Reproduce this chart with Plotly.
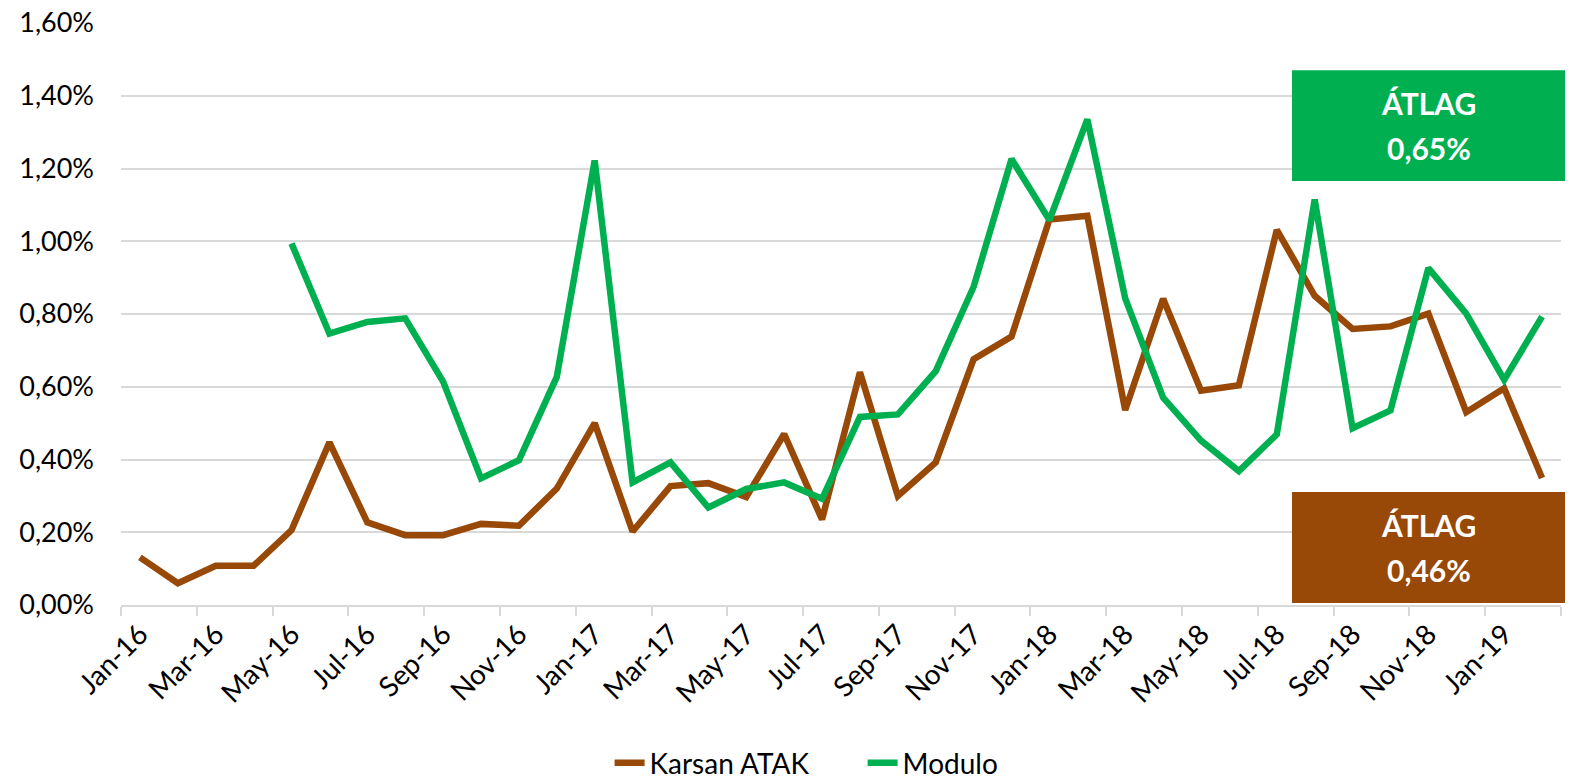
import plotly.graph_objects as go

months = ["Jan", "Feb", "Mar", "Apr", "May", "Jun", "Jul", "Aug", "Sep", "Oct", "Nov", "Dec"]
categories = [f"{m}-{y}" for y in ["16", "17", "18"] for m in months] + ["Jan-19", "Feb-19"]

karsan = [0.131, 0.060, 0.108, 0.108, 0.206, 0.447, 0.227, 0.192, 0.192, 0.223,
          0.218, 0.320, 0.500, 0.202, 0.327, 0.335, 0.297, 0.470, 0.235, 0.640,
          0.300, 0.392, 0.676, 0.738, 1.060, 1.070, 0.536, 0.842, 0.589, 0.604,
          1.031, 0.850, 0.759, 0.766, 0.801, 0.530, 0.596, 0.349]

modulo = [None, None, None, None, 0.994, 0.746, 0.778, 0.788, 0.614, 0.348,
          0.398, 0.627, 1.222, 0.337, 0.392, 0.268, 0.319, 0.337, 0.292, 0.517,
          0.524, 0.643, 0.875, 1.226, 1.058, 1.335, 0.843, 0.570, 0.452, 0.368,
          0.469, 1.115, 0.486, 0.535, 0.926, 0.801, 0.619, 0.793]

series_names = ["Karsan ATAK", "Modulo"]
avg_labels = ["0,46%", "0,65%"]
avg_title = "ÁTLAG"

BROWN = "#984807"
GREEN = "#00B050"
FONT = "Lato, Carlito, Calibri, sans-serif"

fig = go.Figure()
fig.add_trace(go.Scatter(x=categories, y=karsan, name=series_names[0], mode="lines",
                         line=dict(color=BROWN, width=6.5), connectgaps=False))
fig.add_trace(go.Scatter(x=categories, y=modulo, name=series_names[1], mode="lines",
                         line=dict(color=GREEN, width=6.5), connectgaps=False))

# average boxes
boxes = [
    dict(color=GREEN, y0=0.7285, y1=0.919, label=avg_labels[1]),
    dict(color=BROWN, y0=0.0034, y1=0.194, label=avg_labels[0]),
]
x0, x1 = 0.8132, 1.0028
for b in boxes:
    fig.add_shape(type="rect", xref="paper", yref="paper", x0=x0, x1=x1, y0=b["y0"], y1=b["y1"],
                  fillcolor=b["color"], line=dict(width=0), layer="above")
    h = b["y1"] - b["y0"]
    fig.add_annotation(xref="paper", yref="paper", x=(x0 + x1) / 2, y=b["y0"] + h * 0.70,
                       text=f"<b>{avg_title}</b>", showarrow=False, xanchor="center",
                       font=dict(family=FONT, size=30, color="white"), yanchor="middle")
    fig.add_annotation(xref="paper", yref="paper", x=(x0 + x1) / 2, y=b["y0"] + h * 0.30,
                       text=f"<b>{b['label']}</b>", showarrow=False, xanchor="center",
                       font=dict(family=FONT, size=30, color="white"), yanchor="middle")

fig.update_layout(
    width=1571, height=779,
    margin=dict(l=121, r=10, t=23, b=174, autoexpand=False),
    paper_bgcolor="white", plot_bgcolor="white",
    separators=", ",
    font=dict(family=FONT, size=28, color="#000000"),
    showlegend=True,
    legend=dict(orientation="h", xref="paper", yref="container", x=0.515, y=0.0205,
                xanchor="center", yanchor="middle", font=dict(size=28, color="#000000"),
                tracegroupgap=0, entrywidth=208, entrywidthmode="pixels"),
)
fig.update_xaxes(type="category", categoryorder="array", categoryarray=categories,
                 tickmode="linear", dtick=2, tick0=0, tickson="boundaries",
                 ticks="outside", ticklen=9, tickcolor="#d9d9d9", tickwidth=1.5,
                 tickangle=-45, showgrid=False, showline=True, linecolor="#d9d9d9", linewidth=1.5,
                 tickfont=dict(size=28, color="#000000"), range=[-0.5, len(categories) - 0.5],
                 automargin=False)
fig.update_yaxes(range=[0, 1.6], dtick=0.2, tick0=0, tickformat=".2f", ticksuffix="%",
                 showgrid=True, gridcolor="#d9d9d9", gridwidth=1.5, zeroline=False,
                 showline=False, ticks="", tickfont=dict(size=27, color="#000000"),
                 ticklabelstandoff=26, automargin=False)

fig.write_html("out.html", post_script="document.body.style.margin='0';",
               config={"displayModeBar": False})
